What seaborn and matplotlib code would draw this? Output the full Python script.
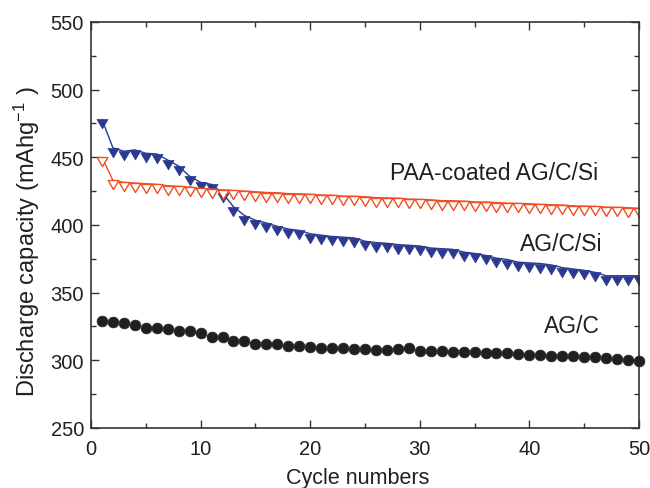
import numpy as np
import pandas as pd
import matplotlib
matplotlib.use('Agg')
import matplotlib.pyplot as plt
import seaborn as sns
from matplotlib.path import Path

# 数据
cycles = list(range(1, 51))

ag_c_si = [478, 457, 454.5, 455.5, 453, 452.5, 448, 443.5, 436, 431.5,
           430, 423.5, 413.5, 407, 403.5, 401.5, 399, 397, 396, 393.5,
           392.5, 391.5, 391, 390.5, 388, 387, 386.5, 385.5, 385, 384.5,
           383, 382.5, 382, 380, 379, 377.5, 375.5, 374.5, 372.5, 372,
           371.5, 370.5, 368.5, 367.5, 366.5, 365, 362.5, 362.5, 362.5, 362.5]

paa_ag_c_si = [450, 433, 431.5, 431, 430.5, 430, 429, 428.5, 428, 427,
               426.5, 426, 425.5, 425, 424.6, 424, 423.8, 423.2, 423, 422.7,
               422.1, 422, 421.3, 421.2, 420.9, 420.2, 420, 419.8, 419.1, 418.9,
               418.6, 418, 417.9, 417.6, 417, 416.9, 416.6, 416.1, 415.9, 415.7,
               415.2, 415, 414.7, 414.1, 413.9, 413.7, 413.2, 413, 412.8, 412.3]

ag_c = [329.2, 328.5, 327.3, 326, 323.8, 323.6, 323.1, 321.8, 321.8, 320.1,
        317, 317, 314.4, 314.4, 312, 312, 312, 310.8, 310.3, 309.6,
        309, 309, 309, 308.5, 308.3, 307.8, 307.8, 308.3, 308.8, 307.1,
        307.1, 306.6, 306.3, 305.9, 305.9, 305.4, 305.4, 305.1, 304.6, 304.1,
        303.9, 303.4, 302.9, 302.9, 302.4, 302.2, 301.7, 300.9, 300.2, 299.7]

df = pd.DataFrame({'Cycle': cycles, 'AG/C/Si': ag_c_si,
                   'PAA-coated AG/C/Si': paa_ag_c_si, 'AG/C': ag_c})

# 设置风格
sns.set_theme(style='ticks')
plt.rcParams['font.family'] = ['Liberation Sans', 'DejaVu Sans']
plt.rcParams['mathtext.default'] = 'regular'

blue = '#2B3990'
orange = '#F04E23'
black = '#231F20'

# 倒三角，数据点在三角形上边
tri_down = Path([(-1, 0), (1, 0), (0, -1.7), (-1, 0)],
                [Path.MOVETO, Path.LINETO, Path.LINETO, Path.CLOSEPOLY])

fig, ax = plt.subplots(figsize=(6.5, 4.89), dpi=100)
fig.subplots_adjust(left=0.14, right=0.983, top=0.953, bottom=0.1227)

sns.lineplot(x='Cycle', y='AG/C/Si', data=df, ax=ax, color=blue, lw=1,
             marker=tri_down, markersize=13.5, markerfacecolor=blue,
             markeredgecolor=blue, markeredgewidth=0.5)
sns.lineplot(x='Cycle', y='PAA-coated AG/C/Si', data=df, ax=ax, color=orange, lw=1,
             marker=tri_down, markersize=13, markerfacecolor='white',
             markeredgecolor=orange, markeredgewidth=1)
sns.scatterplot(x='Cycle', y='AG/C', data=df, ax=ax, color=black, s=60,
                edgecolor=black, linewidth=0.5, zorder=3, clip_on=False)

# 文本标注
ax.text(27.3, 438.5, 'PAA-coated AG/C/Si', fontsize=16.5, color=black, va='center')
ax.text(39.1, 386, 'AG/C/Si', fontsize=16.5, color=black, va='center')
ax.text(41.3, 325.5, 'AG/C', fontsize=16.5, color=black, va='center')

ax.set_xlim(0, 50)
ax.set_ylim(250, 550)
ax.set_xticks(range(0, 51, 10))
ax.set_xticks(range(5, 50, 10), minor=True)
ax.set_yticks(range(250, 551, 50))
ax.set_yticks(range(275, 550, 50), minor=True)

ax.set_xlabel('Cycle numbers', fontsize=15.5, color=black)
ax.set_ylabel('Discharge capacity (mAhg$^{-1}$ )', fontsize=17, color=black)
ax.xaxis.set_label_coords(0.487, -0.095)
ax.yaxis.set_label_coords(-0.09, 0.46)

for sp in ax.spines.values():
    sp.set_linewidth(1.2)
    sp.set_color('#333333')

ax.tick_params(which='both', direction='in', colors='#333333', labelcolor=black,
               labelsize=14.5, width=1)
ax.tick_params(axis='x', which='major', length=6, pad=8)
ax.tick_params(axis='x', which='minor', length=3.5)
ax.tick_params(axis='y', which='major', length=6, pad=5)
ax.tick_params(axis='y', which='minor', length=3.5)
ax.tick_params(which='both', top=True, right=True)

# 保存图像
plt.savefig('out.png', dpi=100)
